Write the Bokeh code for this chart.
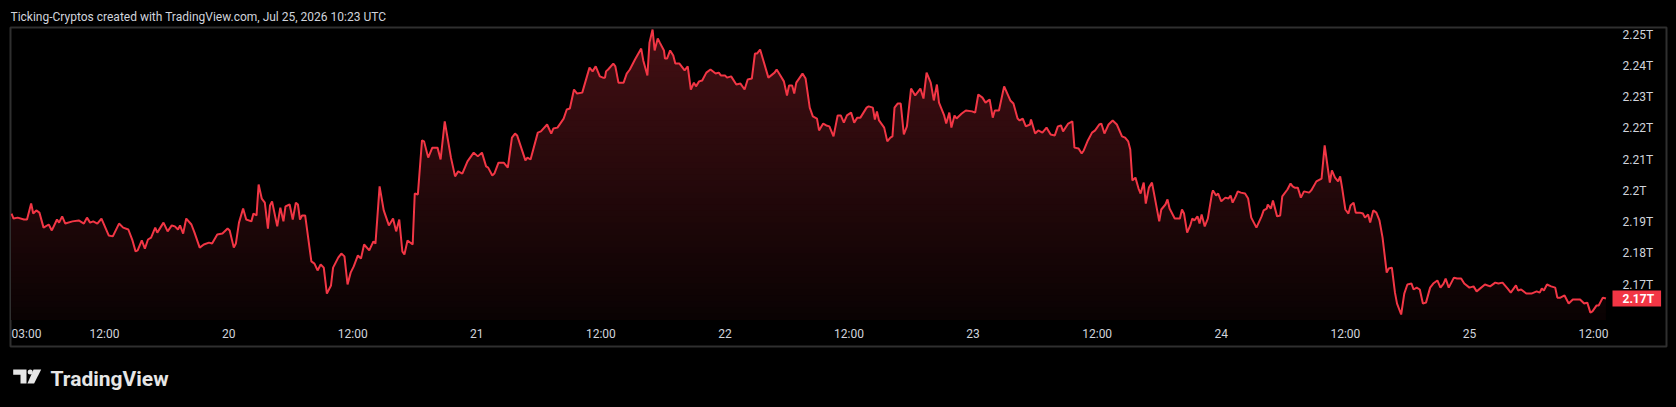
import numpy as np
from bokeh.plotting import figure
from bokeh.layouts import column
from bokeh.models import Range1d, LinearAxis, FixedTicker, Label
from bokeh.core.properties import value
from bokeh.core.templates import get_env
from bokeh.embed import file_html
from bokeh.resources import INLINE

title_text = "Ticking-Cryptos created with TradingView.com, Jul 25, 2026 10:23 UTC"
brand_text = "TradingView"

# hours since Jul 19, 03:00 UTC
hours = [
    0.0, 0.2, 0.6, 1.2, 1.5, 1.9, 2.1, 2.4, 2.7, 3.1,
    3.6, 3.9, 4.4, 4.6, 4.9, 5.2, 5.9, 6.5, 7.0, 7.3,
    7.6, 7.9, 8.3, 8.7, 9.4, 9.8, 10.4, 10.8, 11.3, 11.7,
    12.0, 12.2, 12.6, 12.9, 13.2, 13.5, 13.9, 14.1, 14.7, 15.1,
    15.5, 15.8, 16.1, 16.3, 16.6, 16.9, 17.4, 17.7, 18.2, 18.6,
    19.1, 19.4, 19.9, 20.4, 20.9, 21.1, 21.5, 21.7, 22.0, 22.4,
    22.7, 23.2, 23.4, 23.7, 23.9, 24.2, 24.5, 24.8, 25.0, 25.2,
    25.7, 26.0, 26.3, 26.5, 26.9, 27.2, 27.5, 27.7, 27.9, 28.1,
    28.4, 29.0, 29.3, 29.6, 29.9, 30.2, 30.5, 30.9, 31.1, 31.6,
    31.9, 32.2, 32.5, 32.8, 33.1, 33.5, 33.8, 34.1, 34.6, 35.0,
    35.2, 35.6, 36.0, 36.5, 36.9, 37.2, 37.5, 37.8, 38.0, 38.3,
    38.8, 39.0, 39.3, 39.7, 39.9, 40.3, 40.7, 41.2, 41.5, 41.9,
    42.5, 42.9, 43.2, 43.6, 44.1, 44.7, 45.1, 45.5, 45.9, 46.1,
    46.5, 46.7, 47.1, 47.6, 48.0, 48.4, 48.7, 48.9, 49.7, 49.9,
    50.2, 50.9, 51.2, 51.8, 52.2, 52.4, 52.8, 53.4, 53.7, 54.0,
    54.4, 54.7, 55.2, 55.9, 56.2, 56.5, 56.9, 57.2, 57.4, 57.5,
    57.7, 58.2, 58.4, 58.7, 59.2, 59.5, 59.8, 60.3, 60.9, 61.1,
    61.5, 61.7, 62.0, 62.2, 62.5, 62.7, 63.1, 63.2, 63.4, 63.7,
    64.0, 64.2, 64.6, 65.1, 65.4, 65.7, 66.0, 66.2, 66.5, 66.8,
    67.2, 67.6, 68.1, 68.4, 68.6, 69.0, 69.2, 69.6, 70.1, 70.5,
    70.9, 71.2, 71.6, 71.9, 72.1, 72.4, 72.8, 73.2, 73.8, 74.0,
    74.3, 74.7, 75.0, 75.2, 75.5, 75.7, 75.9, 76.5, 76.8, 77.2,
    77.5, 77.9, 78.1, 78.5, 78.8, 79.1, 79.5, 79.9, 80.2, 80.5,
    80.8, 81.2, 81.5, 81.8, 82.1, 82.7, 82.9, 83.3, 83.5, 83.7,
    83.9, 84.4, 84.7, 85.0, 85.2, 85.4, 85.7, 86.0, 86.3, 86.6,
    87.0, 87.4, 87.9, 88.2, 88.5, 88.9, 89.2, 89.5, 89.7, 90.2,
    90.4, 90.7, 90.9, 91.2, 91.4, 91.9, 92.3, 92.9, 93.2, 93.5,
    93.9, 94.2, 94.6, 94.9, 95.1, 95.5, 96.0, 96.6, 96.9, 97.3,
    97.5, 97.8, 98.1, 98.5, 98.6, 99.0, 99.3, 99.7, 100.1, 100.5,
    100.9, 101.2, 101.5, 101.7, 102.2, 102.6, 102.8, 103.2, 103.5, 103.7,
    104.1, 104.5, 104.8, 105.2, 105.4, 105.7, 106.1, 106.5, 106.9, 107.4,
    107.7, 108.0, 108.2, 108.4, 108.7, 109.0, 109.2, 109.5, 109.7, 110.0,
    110.3, 110.5, 111.0, 111.2, 111.6, 111.8, 112.0, 112.5, 113.0, 113.2,
    113.4, 113.7, 114.0, 114.2, 114.4, 114.7, 114.9, 115.1, 115.4, 115.7,
    116.1, 116.2, 116.5, 116.7, 117.0, 117.4, 117.7, 117.9, 118.1, 118.4,
    118.6, 118.9, 119.3, 119.6, 119.9, 120.4, 120.9, 121.1, 121.4, 121.5,
    121.8, 122.0, 122.4, 122.7, 122.9, 123.4, 123.7, 123.9, 124.1, 124.4,
    124.7, 125.0, 125.5, 125.7, 126.2, 126.7, 127.0, 127.2, 127.5, 127.7,
    128.0, 128.3, 128.5, 128.7, 129.0, 129.3, 129.5, 129.8, 130.0, 130.4,
    130.7, 130.9, 131.2, 131.4, 131.7, 132.0, 132.3, 132.6, 133.0, 133.2,
    133.5, 133.8, 134.0, 134.4, 134.7, 135.0, 135.4, 135.6, 135.9, 136.2,
    136.5, 136.8, 137.2, 137.5, 137.9, 138.2, 138.5, 138.7, 139.0, 139.5,
    139.8, 140.2, 140.5, 141.0, 141.4, 141.7, 142.5, 143.0, 143.5, 143.8,
    144.2, 144.7, 145.0, 145.5, 145.7, 146.0, 146.5, 147.0, 147.5, 147.8,
    148.0, 148.2, 148.5, 148.9, 149.3, 149.5, 149.8, 150.2, 150.6, 151.0,
    151.7, 152.1, 152.4, 152.7, 152.9, 153.3, 153.5, 153.9, 154.2,
]

# total crypto market cap, trillions
tcap = [
    2.1927, 2.1911, 2.1914, 2.1908, 2.1908, 2.1959, 2.1927, 2.1937, 2.1930, 2.1882,
    2.1892, 2.1873, 2.1908, 2.1898, 2.1918, 2.1895, 2.1902, 2.1905, 2.1895, 2.1914,
    2.1898, 2.1902, 2.1895, 2.1911, 2.1857, 2.1854, 2.1895, 2.1882, 2.1876, 2.1841,
    2.1806, 2.1809, 2.1841, 2.1815, 2.1844, 2.1850, 2.1882, 2.1866, 2.1898, 2.1870,
    2.1889, 2.1886, 2.1876, 2.1889, 2.1863, 2.1911, 2.1892, 2.1866, 2.1818, 2.1828,
    2.1834, 2.1831, 2.1860, 2.1863, 2.1879, 2.1873, 2.1818, 2.1831, 2.1898, 2.1943,
    2.1908, 2.1902, 2.1927, 2.1921, 2.2020, 2.1975, 2.1962, 2.1879, 2.1953, 2.1966,
    2.1886, 2.1946, 2.1902, 2.1950, 2.1956, 2.1908, 2.1962, 2.1956, 2.1908, 2.1921,
    2.1921, 2.1774, 2.1767, 2.1745, 2.1764, 2.1754, 2.1671, 2.1697, 2.1754, 2.1786,
    2.1799, 2.1790, 2.1700, 2.1738, 2.1758, 2.1793, 2.1783, 2.1828, 2.1809, 2.1838,
    2.1831, 2.2014, 2.1937, 2.1889, 2.1911, 2.1870, 2.1908, 2.1806, 2.1796, 2.1841,
    2.1828, 2.1991, 2.1988, 2.2161, 2.2158, 2.2106, 2.2138, 2.2138, 2.2100, 2.2222,
    2.2106, 2.2046, 2.2062, 2.2055, 2.2094, 2.2122, 2.2110, 2.2122, 2.2078, 2.2074,
    2.2049, 2.2055, 2.2090, 2.2090, 2.2074, 2.2170, 2.2183, 2.2177, 2.2097, 2.2106,
    2.2100, 2.2186, 2.2190, 2.2212, 2.2183, 2.2199, 2.2202, 2.2231, 2.2260, 2.2263,
    2.2324, 2.2311, 2.2314, 2.2394, 2.2382, 2.2398, 2.2366, 2.2362, 2.2362, 2.2382,
    2.2388, 2.2407, 2.2398, 2.2346, 2.2346, 2.2375, 2.2388, 2.2420, 2.2455, 2.2417,
    2.2369, 2.2474, 2.2516, 2.2449, 2.2487, 2.2474, 2.2449, 2.2423, 2.2423, 2.2449,
    2.2433, 2.2407, 2.2407, 2.2385, 2.2398, 2.2324, 2.2346, 2.2334, 2.2350, 2.2353,
    2.2378, 2.2388, 2.2375, 2.2378, 2.2369, 2.2369, 2.2362, 2.2366, 2.2340, 2.2343,
    2.2324, 2.2356, 2.2359, 2.2439, 2.2439, 2.2452, 2.2407, 2.2362, 2.2378, 2.2388,
    2.2372, 2.2350, 2.2305, 2.2337, 2.2337, 2.2311, 2.2346, 2.2375, 2.2359, 2.2266,
    2.2238, 2.2231, 2.2193, 2.2215, 2.2209, 2.2206, 2.2174, 2.2241, 2.2241, 2.2218,
    2.2241, 2.2250, 2.2218, 2.2234, 2.2234, 2.2266, 2.2270, 2.2266, 2.2228, 2.2254,
    2.2225, 2.2202, 2.2158, 2.2170, 2.2174, 2.2266, 2.2279, 2.2279, 2.2180, 2.2206,
    2.2327, 2.2305, 2.2327, 2.2295, 2.2378, 2.2346, 2.2289, 2.2340, 2.2282, 2.2241,
    2.2215, 2.2250, 2.2202, 2.2241, 2.2231, 2.2247, 2.2257, 2.2254, 2.2250, 2.2308,
    2.2298, 2.2282, 2.2292, 2.2234, 2.2257, 2.2257, 2.2334, 2.2289, 2.2279, 2.2231,
    2.2225, 2.2231, 2.2206, 2.2212, 2.2228, 2.2183, 2.2193, 2.2186, 2.2202, 2.2180,
    2.2177, 2.2206, 2.2209, 2.2190, 2.2215, 2.2222, 2.2138, 2.2135, 2.2119, 2.2129,
    2.2161, 2.2186, 2.2193, 2.2212, 2.2215, 2.2183, 2.2212, 2.2225, 2.2212, 2.2174,
    2.2170, 2.2158, 2.2132, 2.2033, 2.2042, 2.2007, 2.1991, 2.2026, 2.1959, 2.2010,
    2.2026, 2.1991, 2.1902, 2.1940, 2.1956, 2.1972, 2.1943, 2.1911, 2.1911, 2.1940,
    2.1927, 2.1866, 2.1889, 2.1911, 2.1905, 2.1918, 2.1895, 2.1924, 2.1886, 2.1911,
    2.1991, 2.2001, 2.1985, 2.1991, 2.1966, 2.1978, 2.1975, 2.1985, 2.1962, 2.1982,
    2.1998, 2.1994, 2.1991, 2.1975, 2.1914, 2.1882, 2.1918, 2.1937, 2.1943, 2.1956,
    2.1943, 2.1969, 2.1918, 2.1921, 2.1982, 2.2004, 2.2023, 2.2014, 2.2010, 2.2010,
    2.1978, 2.1998, 2.1994, 2.2001, 2.2030, 2.2039, 2.2145, 2.2097, 2.2026, 2.2065,
    2.2042, 2.2030, 2.2046, 2.2007, 2.1940, 2.1927, 2.1953, 2.1962, 2.1930, 2.1930,
    2.1927, 2.1914, 2.1924, 2.1898, 2.1937, 2.1930, 2.1905, 2.1850, 2.1738, 2.1751,
    2.1754, 2.1674, 2.1639, 2.1604, 2.1671, 2.1700, 2.1703, 2.1684, 2.1690, 2.1684,
    2.1639, 2.1642, 2.1690, 2.1703, 2.1713, 2.1690, 2.1703, 2.1719, 2.1690, 2.1722,
    2.1719, 2.1719, 2.1703, 2.1690, 2.1694, 2.1678, 2.1700, 2.1694, 2.1706, 2.1703,
    2.1706, 2.1687, 2.1674, 2.1697, 2.1681, 2.1684, 2.1671, 2.1671, 2.1678, 2.1674,
    2.1687, 2.1681, 2.1700, 2.1694, 2.1690, 2.1658, 2.1658, 2.1665, 2.1639, 2.1652,
    2.1652, 2.1639, 2.1642, 2.1610, 2.1614, 2.1633, 2.1633, 2.1658, 2.1655,
]

price_ticks = [2.17, 2.18, 2.19, 2.20, 2.21, 2.22, 2.23, 2.24, 2.25]
price_labels = ["2.17T", "2.18T", "2.19T", "2.2T", "2.21T", "2.22T", "2.23T", "2.24T", "2.25T"]
time_ticks = [9, 21, 33, 45, 57, 69, 81, 93, 105, 117, 129, 141, 153]
time_labels = ["12:00", "20", "12:00", "21", "12:00", "22", "12:00", "23", "12:00", "24", "12:00", "25", "12:00"]
start_tick = 0
start_label = "03:00"
pane_floor = 2.1588  # bottom of the price pane (top of the time scale)

assert len(hours) == len(tcap), (len(hours), len(tcap))

RED = "#f23645"
AX = "#d1d4dc"
FONT = "Roboto"
BG = "#000000"
W = 1676
L, R = 10, 10   # side borders shared by all stacked figures


def bare(fig):
    fig.xgrid.visible = False
    fig.ygrid.visible = False
    fig.background_fill_color = BG
    fig.border_fill_color = BG
    fig.outline_line_color = None
    return fig


def strip(height):
    # helper figure whose data coordinates equal page pixels horizontally
    return bare(figure(width=W, height=height, output_backend="svg", toolbar_location=None,
                       tools="", title=None,
                       x_range=Range1d(L, W - R), y_range=Range1d(height, 0),
                       min_border_left=L, min_border_right=R, min_border_top=0,
                       min_border_bottom=0, x_axis_location=None, y_axis_location=None))


# ---- header -------------------------------------------------------------
head = strip(26)
head.text(x=[10], y=[16], text=[title_text], text_align="left", text_baseline="alphabetic",
          text_font=value(FONT), text_font_size="12px", text_color=AX)

# ---- main chart ---------------------------------------------------------
p = bare(figure(width=W, height=324, output_backend="svg", toolbar_location=None, tools="",
                title=None,
                x_range=Range1d(-0.097, 160.06), y_range=Range1d(2.15016, 2.25224),
                min_border_left=L, min_border_right=R, min_border_top=1, min_border_bottom=4,
                x_axis_location=None, y_axis_location=None))
p.outline_line_color = "#2f2f2f"
p.outline_line_width = 2

hrs = np.array(hours)
vals = np.array(tcap)

# vertical gradient fill under the line (overlapping bands, darkest drawn last)
hi = vals.max()
N = 48
edges = np.linspace(pane_floor, hi, N + 1)
a_top, a_bot = 0.28, 0.04
for i in range(N, 0, -1):
    a = a_bot + (a_top - a_bot) * (i - 0.5) / N
    col = "#%02x%02x%02x" % (round(242 * a), round(54 * a), round(69 * a))
    p.varea(x=hrs, y1=pane_floor, y2=np.minimum(vals, edges[i]), fill_color=col, fill_alpha=1.0)

p.line(hrs, vals, line_color=RED, line_width=2)

# price scale (labels pulled inside the bordered box)
yaxis = LinearAxis(ticker=FixedTicker(ticks=price_ticks),
                   major_label_overrides=dict(zip(price_ticks, price_labels)))
yaxis.axis_line_color = None
yaxis.major_tick_line_color = None
yaxis.minor_tick_line_color = None
yaxis.major_tick_out = 0
yaxis.major_tick_in = 0
yaxis.major_label_standoff = -44
yaxis.major_label_text_font = FONT
yaxis.major_label_text_font_size = "12px"
yaxis.major_label_text_color = AX
p.add_layout(yaxis, "right")

# time scale
xaxis = LinearAxis(ticker=FixedTicker(ticks=time_ticks),
                   major_label_overrides=dict(zip(time_ticks, time_labels)))
xaxis.axis_line_color = None
xaxis.major_tick_line_color = None
xaxis.minor_tick_line_color = None
xaxis.major_tick_out = 0
xaxis.major_tick_in = 0
xaxis.major_label_standoff = -20
xaxis.major_label_text_font = FONT
xaxis.major_label_text_font_size = "12px"
xaxis.major_label_text_color = AX
p.add_layout(xaxis, "below")

p.add_layout(Label(x=start_tick, y=13, x_units="data", y_units="screen", text=start_label,
                   text_align="left", text_baseline="middle", text_font=FONT,
                   text_font_size="12px", text_color=AX))

# last value tag
p.add_layout(Label(x=1602, y=tcap[-1], x_units="screen", y_units="data",
                   text=f"{tcap[-1]:.2f}T", text_align="left", text_baseline="middle",
                   text_color="#ffffff", text_font=FONT, text_font_size="12px",
                   text_font_style="bold", background_fill_color=RED,
                   padding=dict(left=10, right=7, top=1, bottom=1)))

# ---- footer with brand ----------------------------------------------------
LOGO = "#e6e6e6"
foot = strip(57)
foot.patch(x=[12.7, 26.0, 26.0, 20.0, 20.0, 12.7], y=[19, 19, 33, 33, 24.3, 24.3],
           fill_color=LOGO, line_color=None)
foot.scatter(x=[29.7], y=[21.4], size=5, marker="circle", fill_color=LOGO, line_color=None)
foot.patch(x=[33.0, 40.7, 33.6, 26.9], y=[19, 19, 33, 33], fill_color=LOGO, line_color=None)
foot.text(x=[50], y=[28.5], text=[brand_text], text_align="left", text_baseline="alphabetic",
          text_font=value(FONT), text_font_size="21px", text_font_style="bold", text_color=LOGO)

layout = column(head, p, foot, spacing=0, styles={"background-color": BG})

page_template = get_env().from_string(
    '{% extends "file.html" %}\n'
    '{% block postamble %}<style>html, body { background-color: #000000; }</style>{% endblock %}'
)
open("out.html", "w").write(file_html(layout, INLINE, template=page_template))
